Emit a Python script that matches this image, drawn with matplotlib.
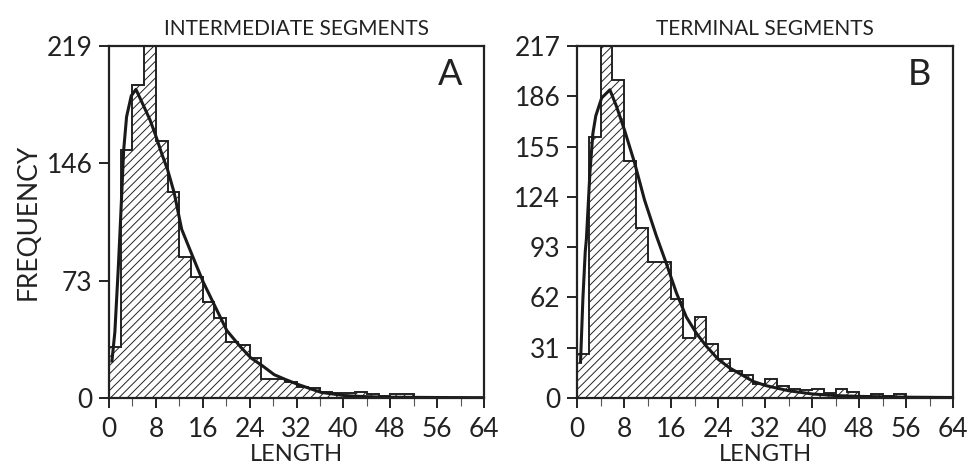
import matplotlib
matplotlib.use("Agg")
import matplotlib.pyplot as plt
import numpy as np

plt.rcParams['font.family'] = ['Lato', 'DejaVu Sans']
plt.rcParams['hatch.linewidth'] = 0.7

# ---- data ----
bin_edges = list(range(0, 66, 2))

counts_a = [32, 154, 195, 235, 160, 128, 88, 75, 59.5, 50, 35, 33, 25, 12, 12, 10,
            7, 6, 4, 3, 3, 4, 2.5, 1, 2.5, 2.5, 0.5, 0.3, 0.3, 0.2, 0.2, 0.2]
curve_a_x = [0.5, 1.0, 1.6, 2.0, 2.5, 3.0, 3.8, 4.6, 6.0, 7.0, 8.0, 9.0, 10.0, 11.1,
             12.4, 14.4, 16.1, 18.1, 20.1, 22.4, 24.2, 26.2, 28.2, 30.2, 32.2, 36.2,
             40.2, 44, 48, 56, 64]
curve_a_y = [23, 41, 82, 113, 154, 175, 188, 192, 181, 173, 163, 152, 142, 128,
             105, 87, 72, 57, 42, 32, 25, 20, 14.5, 11.4, 8.5, 3.5,
             1.5, 0.8, 0.5, 0.3, 0.2]

counts_b = [27, 161, 240, 196, 146, 105, 84, 84, 61, 37, 50, 33.5, 24, 16.5, 14.4, 8.5,
            11.5, 7.6, 5.5, 4.7, 5.5, 3, 5.5, 3.5, 1, 2.5, 1, 2.5, 0.5, 0.5, 0.3, 0.2]
curve_b_x = [0.6, 1.0, 1.4, 1.6, 2.2, 2.7, 3.2, 4.2, 5.6, 6.7, 8.1, 9.8, 11.5, 13.5,
             15.2, 16.9, 18.6, 20.3, 22.0, 24.0, 26.0, 28.0, 30.0, 32.2, 36, 40, 44,
             48, 56, 64]
curve_b_y = [22, 61, 90, 98, 139, 163, 174, 185, 190, 180, 165, 145, 122, 100,
             83, 65, 50, 40, 32, 24, 18.5, 14.4, 10.2, 7.6, 4.5, 2.5, 1.5,
             1, 0.5, 0.3]

xticks = [0, 8, 16, 24, 32, 40, 48, 56, 64]
yticks_a = [0, 73, 146, 219]
yticks_b = [0, 31, 62, 93, 124, 155, 186, 217]
titles = ["INTERMEDIATE SEGMENTS", "TERMINAL SEGMENTS"]
letters = ["A", "B"]

TXT = '#222222'
W, H = 972, 468
fig = plt.figure(figsize=(W / 100, H / 100), dpi=100)

def px_axes(l, r, t, b):
    return fig.add_axes([l / W, (H - b) / H, (r - l) / W, (b - t) / H])

axA = px_axes(109, 484, 46, 398)
axB = px_axes(577, 953, 46, 398)

panels = [
    (axA, counts_a, curve_a_x, curve_a_y, yticks_a),
    (axB, counts_b, curve_b_x, curve_b_y, yticks_b),
]

for i, (ax, counts, cx, cy, yt) in enumerate(panels):
    ax.stairs(counts, bin_edges, fill=True, facecolor='white', edgecolor='#222222',
              hatch='////', linewidth=0, baseline=0)
    ax.stairs(counts, bin_edges, fill=False, edgecolor='#222222', linewidth=1.4,
              baseline=0)
    ax.plot(cx, cy, color='#1a1a1a', linewidth=2.2, solid_joinstyle='round')
    ax.set_xlim(0, 64)
    ax.set_ylim(0, yt[-1])
    ax.set_xticks(xticks)
    ax.set_xticks(np.arange(0, 65, 4), minor=True)
    ax.set_yticks(yt)
    ax.set_xticklabels([str(v) for v in xticks], fontsize=19, color=TXT)
    ax.set_yticklabels([str(v) for v in yt], fontsize=19, color=TXT)
    ax.tick_params(axis='both', which='major', direction='out', length=7, width=1.4,
                   color='#222222')
    ax.tick_params(axis='x', which='major', pad=7)
    ax.tick_params(axis='y', which='major', pad=5)
    ax.tick_params(axis='x', which='minor', direction='out', length=6, width=0.8,
                   color='#555555')
    for s in ax.spines.values():
        s.set_linewidth(1.6)
        s.set_color('#222222')
    ax.set_title(titles[i], fontsize=15, pad=8, color=TXT)
    ax.set_xlabel("LENGTH", fontsize=17, labelpad=1, color=TXT)
    ax.text(0.91, 0.92, letters[i], transform=ax.transAxes, fontsize=26,
            ha='center', va='center', color=TXT)

axA.set_ylabel("FREQUENCY", fontsize=19, labelpad=4, color=TXT)

fig.savefig("out.png", dpi=100)
